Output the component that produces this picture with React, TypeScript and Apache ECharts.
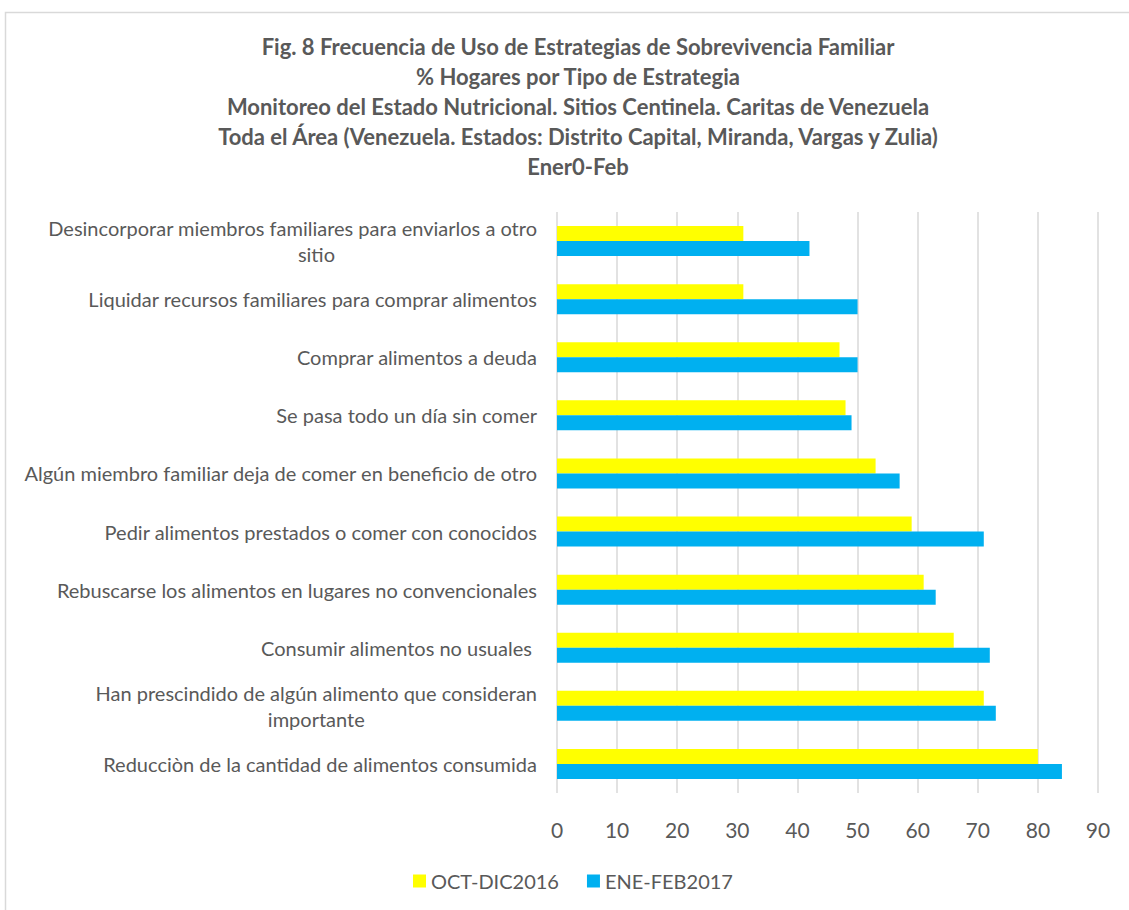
import React, { useEffect, useRef } from "react";
import * as echarts from "echarts";

const categories = [
  "Desincorporar miembros familiares para enviarlos a otro\nsitio",
  "Liquidar recursos familiares para comprar alimentos",
  "Comprar alimentos a deuda",
  "Se pasa todo un día sin comer",
  "Algún miembro familiar deja de comer en beneficio de otro",
  "Pedir alimentos prestados o comer con conocidos",
  "Rebuscarse los alimentos en lugares no convencionales",
  "Consumir alimentos no usuales ",
  "Han prescindido de algún alimento que consideran\nimportante",
  "Reducciòn de la cantidad de alimentos consumida",
];
const octDic2016 = [31, 31, 47, 48, 53, 59, 61, 66, 71, 80];
const eneFeb2017 = [42, 50, 50, 49, 57, 71, 63, 72, 73, 84];
const seriesNames = ["OCT-DIC2016", "ENE-FEB2017"];
const titleLines = [
  "Fig. 8 Frecuencia de Uso de Estrategias de Sobrevivencia Familiar",
  "% Hogares por Tipo de Estrategia",
  "Monitoreo del Estado Nutricional. Sitios Centinela. Caritas de Venezuela",
  "Toda el Área (Venezuela. Estados: Distrito Capital, Miranda, Vargas y Zulia)",
  "Ener0-Feb",
];

const FONT = "Lato";
const TEXT = "#595959";

export default function App() {
  const ref = useRef<HTMLDivElement>(null);
  useEffect(() => {
    document.body.style.margin = "0";
    const chart = echarts.init(ref.current!, null, { renderer: "svg" });
    chart.setOption({
      animation: false,
      backgroundColor: "#ffffff",
      graphic: [
        {
          type: "rect",
          shape: { x: 5.5, y: 12.5, width: 1140, height: 920 },
          style: { fill: "none", stroke: "#d9d9d9", lineWidth: 1.5 },
          silent: true,
        },
      ],
      title: {
        text: titleLines.join("\n"),
        left: 573,
        top: 26,
        textAlign: "center",
        textStyle: {
          fontFamily: FONT,
          fontSize: 22,
          fontWeight: "bold",
          color: TEXT,
          lineHeight: 30,
        },
      },
      legend: {
        bottom: 14,
        left: 408,
        itemWidth: 13,
        itemHeight: 13,
        itemGap: 28,
        icon: "rect",
        textStyle: { fontFamily: FONT, fontSize: 20, color: TEXT },
        data: seriesNames,
      },
      grid: { left: 557, right: 31, top: 212, bottom: 117, containLabel: false },
      xAxis: {
        type: "value",
        min: 0,
        max: 90,
        interval: 10,
        axisLine: { show: false },
        axisTick: { show: false },
        axisLabel: { fontFamily: FONT, fontSize: 21, color: TEXT, margin: 26 },
        splitLine: { lineStyle: { color: "#d9d9d9", width: 1.5 } },
      },
      yAxis: {
        type: "category",
        inverse: true,
        data: categories,
        axisLine: { show: false },
        axisTick: { show: false },
        axisLabel: {
          fontFamily: FONT,
          fontSize: 20,
          color: TEXT,
          margin: 20,
          lineHeight: 26,
          formatter: (v: string) => {
            const parts = v.split("\n");
            if (parts.length === 1) return v;
            const cls = parts[1].length < 8 ? "c" : "b";
            return `{a|${parts[0]}}\n{${cls}|${parts[1]}}`;
          },
          rich: {
            a: { fontFamily: FONT, fontSize: 20, color: TEXT, lineHeight: 26, align: "right" },
            b: { fontFamily: FONT, fontSize: 20, color: TEXT, lineHeight: 26, align: "center" },
            c: {
              fontFamily: FONT,
              fontSize: 20,
              color: TEXT,
              lineHeight: 26,
              align: "center",
              padding: [0, 0, 0, 48],
            },
          },
        },
      },
      series: [
        {
          name: seriesNames[0],
          type: "bar",
          data: octDic2016,
          itemStyle: { color: "#FFFF00" },
          barWidth: 15,
          barGap: "0%",
        },
        {
          name: seriesNames[1],
          type: "bar",
          data: eneFeb2017,
          itemStyle: { color: "#00B0F0" },
          barWidth: 15,
          barGap: "0%",
        },
      ],
    });
    return () => chart.dispose();
  }, []);
  return (
    <div
      ref={ref}
      style={{ position: "absolute", left: 0, top: 0, width: 1129, height: 910 }}
    />
  );
}
